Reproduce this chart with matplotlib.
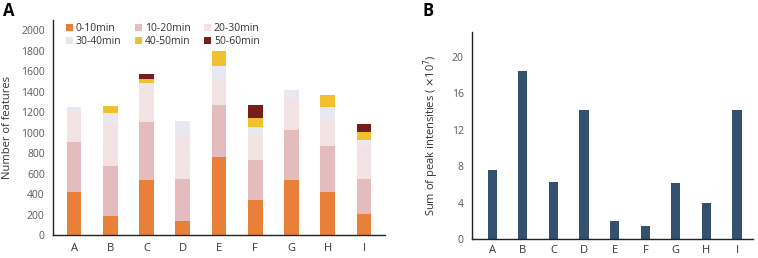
import matplotlib.pyplot as plt
import numpy as np

plt.rcParams.update({
    "font.family": ["Open Sans", "DejaVu Sans"],
    "font.size": 7.5,
    "mathtext.fontset": "dejavusans",
})

# --- DATA ---
samples = ['A', 'B', 'C', 'D', 'E', 'F', 'G', 'H', 'I']
bins = ['0-10min', '10-20min', '20-30min', '30-40min', '40-50min', '50-60min']
feat_0_10 = [420, 190, 538, 137, 760, 343, 538, 424, 206]
feat_10_20 = [485, 480, 568, 408, 506, 391, 487, 441, 342]
feat_20_30 = [300, 415, 334, 435, 251, 236, 290, 270, 317]
feat_30_40 = [50, 105, 45, 135, 138, 80, 104, 115, 65]
feat_40_50 = [0, 70, 35, 0, 142, 90, 0, 114, 78]
feat_50_60 = [0, 0, 53, 0, 0, 132, 0, 0, 79]
intensity = [7.6, 18.4, 6.25, 14.2, 1.95, 1.4, 6.1, 3.9, 14.2]  # x10^7

bin_colors = ['#E8803A', '#E4BCBE', '#F2E2E3', '#E9E7F0', '#F0C02E', '#7A1C1C']
bar_blue = '#34506F'
tick_grey = '#595959'

W, H = 758, 258
fig = plt.figure(figsize=(W / 100, H / 100), dpi=100)


def px_axes(x0, y0, x1, y1):
    # pixel box (left, top, right, bottom) -> figure fraction
    return fig.add_axes([x0 / W, 1 - y1 / H, (x1 - x0) / W, (y1 - y0) / H])


def style(ax, xpad):
    for s in ['top', 'right']:
        ax.spines[s].set_visible(False)
    for s in ['left', 'bottom']:
        ax.spines[s].set_color('#222222')
        ax.spines[s].set_linewidth(1.0)
    ax.tick_params(axis='both', length=0)
    ax.tick_params(axis='y', colors=tick_grey, labelsize=7.5, pad=6)
    ax.tick_params(axis='x', colors='#333333', labelsize=8, pad=xpad)


# --- Panel A: stacked bars ---
axA = px_axes(53, 20, 385, 235)
x = np.arange(len(samples))
series = [feat_0_10, feat_10_20, feat_20_30, feat_30_40, feat_40_50, feat_50_60]
bottom = np.zeros(len(samples))
handles = []
for vals, col, lab in zip(series, bin_colors, bins):
    h = axA.bar(x, vals, 0.41, bottom=bottom, color=col, label=lab, linewidth=0)
    handles.append(h)
    bottom += np.array(vals)

axA.set_xlim(-0.58, 8.58)
axA.set_ylim(0, 2100)
axA.set_yticks(np.arange(0, 2001, 200))
axA.set_xticks(x)
axA.set_xticklabels(samples)
axA.set_ylabel('Number of features', fontsize=8, color='#333333', labelpad=6)
style(axA, 6)

order = [0, 3, 1, 4, 2, 5]
axA.legend([handles[i] for i in order], [bins[i] for i in order], ncol=3,
           loc='upper left', bbox_to_anchor=(0.01, 1.03), frameon=False,
           handlelength=0.7, handleheight=0.7, handletextpad=0.25,
           columnspacing=1.3, labelspacing=0.2, fontsize=7.5,
           labelcolor='#333333')

# --- Panel B: intensities ---
axB = px_axes(472, 32, 753, 239)
axB.bar(x, intensity, 0.3, color=bar_blue, linewidth=0)
axB.set_xlim(-0.66, 8.52)
axB.set_ylim(0, 22.7)
axB.set_yticks(np.arange(0, 21, 4))
axB.set_xticks(x)
axB.set_xticklabels(samples)
axB.set_ylabel(r'Sum of peak intensities ( $\times$10$^{7}$)', fontsize=8,
               color='#333333', labelpad=8)
style(axB, 4)

fig.text(3 / W, 1 - 2 / H, 'A', fontsize=12, fontweight='bold', va='top', ha='left')
fig.text(422 / W, 1 - 2 / H, 'B', fontsize=12, fontweight='bold', va='top', ha='left')

fig.savefig('out.png', dpi=100)
